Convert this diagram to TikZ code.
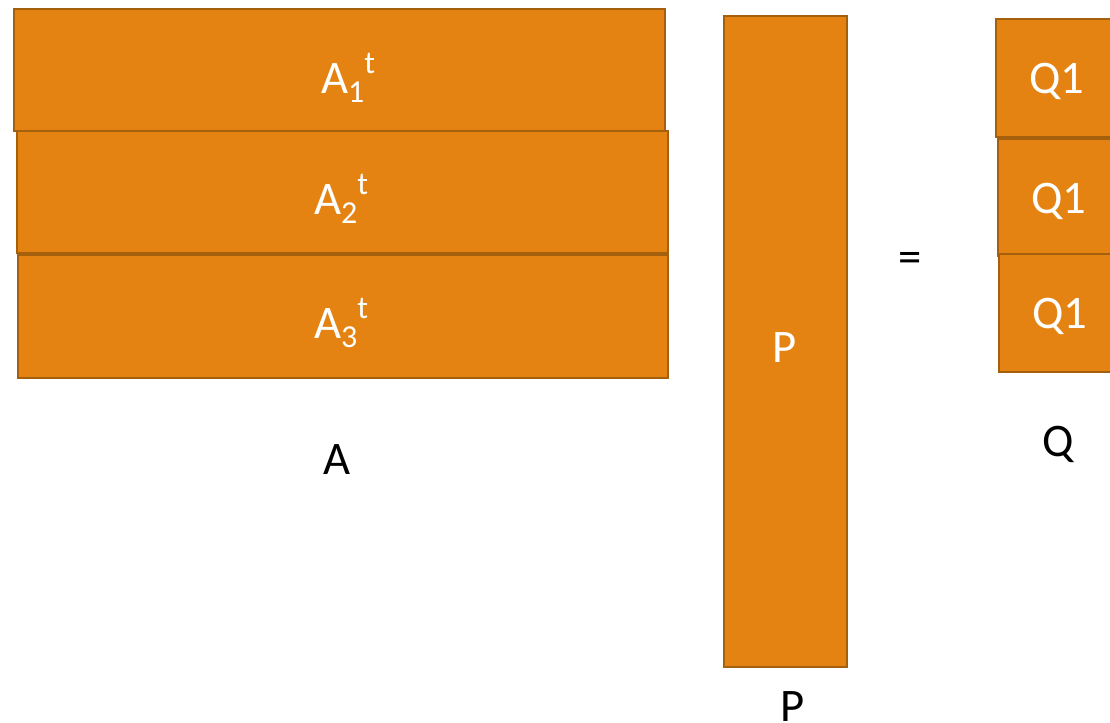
\documentclass[tikz,border=0pt]{standalone}
\usepackage{fontspec}
\setmainfont{Carlito}
\definecolor{boxfill}{HTML}{E48312}
\definecolor{boxline}{HTML}{A5600E}
\newcommand{\subsup}[3]{#1\raisebox{-0.2em}{\fontsize{24}{24}\selectfont #2}\raisebox{0.42em}{\fontsize{24}{24}\selectfont #3}}
\begin{document}
\begin{tikzpicture}[x=0.75pt,y=-0.75pt,
  blk/.style={draw=boxline,fill=boxfill,line width=2pt},
  intext/.style={text=white,font=\fontsize{35}{35}\selectfont},
  lbl/.style={text=black,font=\fontsize{35}{35}\selectfont}]
\useasboundingbox (0,0) rectangle (1110,722);
\clip (0,0) rectangle (1110,722);
% A blocks
\draw[blk] (14,9) rectangle (665,131);
\node[intext] (a1) at (348,78) {\subsup{A}{1}{t}};
\draw[blk] (17,131) rectangle (668,253);
\node[intext] (a2) at (341,199) {\subsup{A}{2}{t}};
\draw[blk] (18,255) rectangle (668,378);
\node[intext] (a3) at (341,323) {\subsup{A}{3}{t}};
\node[lbl] (la) at (337,460) {A};
% P block
\draw[blk] (724,16) rectangle (847,667);
\node[intext] (p) at (785,348) {P};
\node[lbl] (lp) at (793,707) {P};
% equals
\node[lbl] (eq) at (910,262) {=};
% Q blocks
\draw[blk] (996,19) rectangle (1130,137);
\node[intext] (q1) at (1057,81) {Q1};
\draw[blk] (998,139) rectangle (1130,256);
\node[intext] (q2) at (1059,201) {Q1};
\draw[blk] (999,254) rectangle (1130,372);
\node[intext] (q3) at (1060,316) {Q1};
\node[lbl] (lq) at (1058,444) {Q};
\end{tikzpicture}
\end{document}
